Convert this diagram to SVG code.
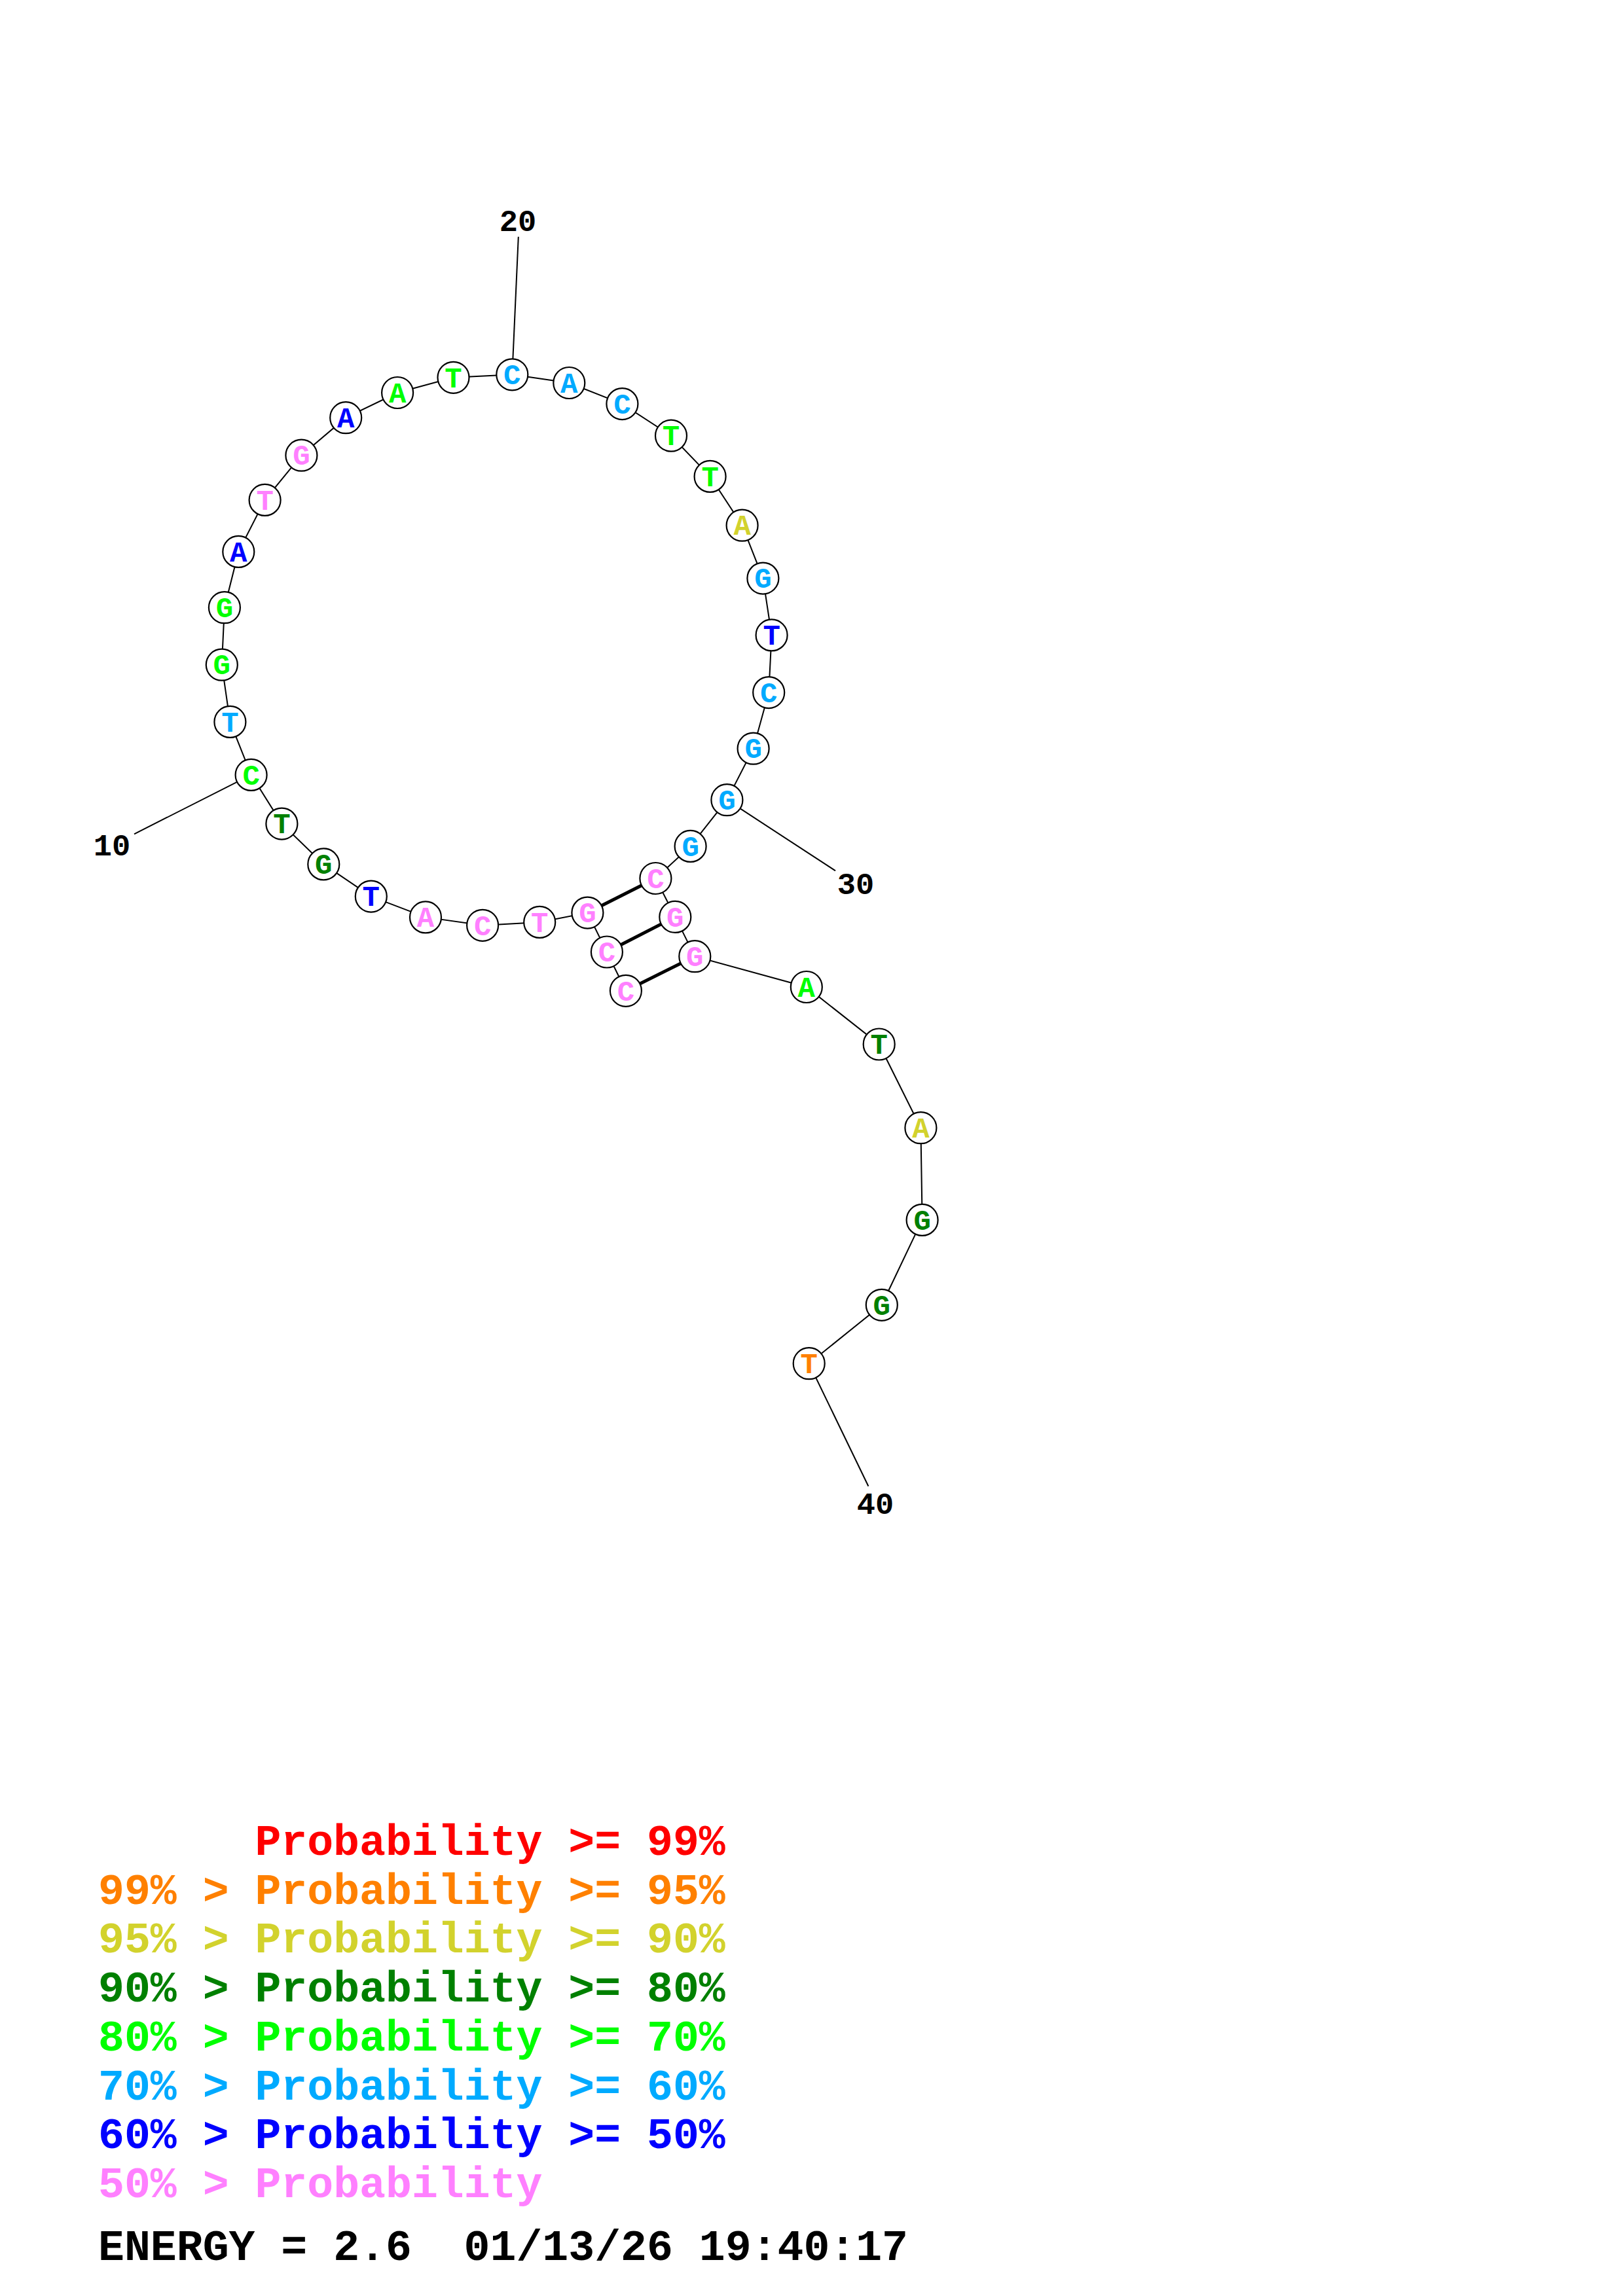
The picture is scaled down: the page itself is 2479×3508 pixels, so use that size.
<svg xmlns="http://www.w3.org/2000/svg" width="2479" height="3508" viewBox="0 0 2479 3508">
<style>
.bb{stroke:#000;stroke-width:2;fill:none}
.bp{stroke:#000;stroke-width:5;fill:none}
.nc{fill:#fff;stroke:#000;stroke-width:2.2}
.nt{font-family:"Liberation Mono",monospace;font-weight:bold;font-size:44px;text-anchor:middle}
.lb{font-family:"Liberation Mono",monospace;font-weight:bold;font-size:47px;text-anchor:middle;fill:#000}
.lg{font-family:"Liberation Mono",monospace;font-weight:bold;font-size:66.5px}
.pk{fill:#FF80FF}.sk{fill:#00AAFF}.lm{fill:#00FF00}.dg{fill:#008000}.bl{fill:#0000FF}.yl{fill:#D2D22D}.or{fill:#FF8000}.rd{fill:#FF0000}
</style>
<rect width="2479" height="3508" fill="#fff"/>
<g id="connectors">
<polyline class="bb" points="955.9,1513.8 926.9,1454.5 897.4,1394.6 824.2,1408.9 737.1,1413.8 650,1401.4 566.8,1369.6 494.3,1320.4 430.4,1258.6 383.6,1183.9 351.4,1102.9 338.8,1015.7 342.9,928.2 364.3,842.9 404.6,763.9 460.4,695.7 528.2,638.2 607.1,600 692.5,576.8 782.3,572.3 869.3,585 950.4,617.1 1025,665.7 1084.6,727.9 1133.6,802.7 1165.4,883.6 1178.6,970.4 1174.2,1058.1 1150.6,1143.7 1110.4,1222.2 1054.6,1292.9 1001.4,1342 1031.3,1400.9 1061.3,1461.2 1231.8,1508 1342.7,1595.5 1406.4,1723.2 1408.6,1863.9 1346.8,1993.8 1235.7,2083.2"/>
<line class="bp" x1="955.9" y1="1513.8" x2="1061.3" y2="1461.2"/>
<line class="bp" x1="926.9" y1="1454.5" x2="1031.3" y2="1400.9"/>
<line class="bp" x1="897.4" y1="1394.6" x2="1001.4" y2="1342"/>
<line class="bb" x1="383.6" y1="1183.9" x2="205" y2="1274.3"/>
<line class="bb" x1="782.3" y1="572.3" x2="791.8" y2="361.8"/>
<line class="bb" x1="1110.4" y1="1222.2" x2="1276" y2="1330.4"/>
<line class="bb" x1="1235.7" y1="2083.2" x2="1326.4" y2="2270.7"/>
</g>
<g id="labels">
<text class="lb" x="171" y="1307">10</text>
<text class="lb" x="791" y="353">20</text>
<text class="lb" x="1307" y="1366">30</text>
<text class="lb" x="1337" y="2313">40</text>
</g>
<g id="n1"><circle class="nc" cx="955.9" cy="1513.8" r="24"/><text class="nt pk" x="955.9" y="1528.5">C</text></g>
<g id="n2"><circle class="nc" cx="926.9" cy="1454.5" r="24"/><text class="nt pk" x="926.9" y="1469.2">C</text></g>
<g id="n3"><circle class="nc" cx="897.4" cy="1394.6" r="24"/><text class="nt pk" x="897.4" y="1409.3">G</text></g>
<g id="n4"><circle class="nc" cx="824.2" cy="1408.9" r="24"/><text class="nt pk" x="824.2" y="1423.6">T</text></g>
<g id="n5"><circle class="nc" cx="737.1" cy="1413.8" r="24"/><text class="nt pk" x="737.1" y="1428.5">C</text></g>
<g id="n6"><circle class="nc" cx="650" cy="1401.4" r="24"/><text class="nt pk" x="650" y="1416.1">A</text></g>
<g id="n7"><circle class="nc" cx="566.8" cy="1369.6" r="24"/><text class="nt bl" x="566.8" y="1384.3">T</text></g>
<g id="n8"><circle class="nc" cx="494.3" cy="1320.4" r="24"/><text class="nt dg" x="494.3" y="1335.1">G</text></g>
<g id="n9"><circle class="nc" cx="430.4" cy="1258.6" r="24"/><text class="nt dg" x="430.4" y="1273.3">T</text></g>
<g id="n10"><circle class="nc" cx="383.6" cy="1183.9" r="24"/><text class="nt lm" x="383.6" y="1198.6">C</text></g>
<g id="n11"><circle class="nc" cx="351.4" cy="1102.9" r="24"/><text class="nt sk" x="351.4" y="1117.6">T</text></g>
<g id="n12"><circle class="nc" cx="338.8" cy="1015.7" r="24"/><text class="nt lm" x="338.8" y="1030.4">G</text></g>
<g id="n13"><circle class="nc" cx="342.9" cy="928.2" r="24"/><text class="nt lm" x="342.9" y="942.9">G</text></g>
<g id="n14"><circle class="nc" cx="364.3" cy="842.9" r="24"/><text class="nt bl" x="364.3" y="857.6">A</text></g>
<g id="n15"><circle class="nc" cx="404.6" cy="763.9" r="24"/><text class="nt pk" x="404.6" y="778.6">T</text></g>
<g id="n16"><circle class="nc" cx="460.4" cy="695.7" r="24"/><text class="nt pk" x="460.4" y="710.4">G</text></g>
<g id="n17"><circle class="nc" cx="528.2" cy="638.2" r="24"/><text class="nt bl" x="528.2" y="652.9">A</text></g>
<g id="n18"><circle class="nc" cx="607.1" cy="600" r="24"/><text class="nt lm" x="607.1" y="614.7">A</text></g>
<g id="n19"><circle class="nc" cx="692.5" cy="576.8" r="24"/><text class="nt lm" x="692.5" y="591.5">T</text></g>
<g id="n20"><circle class="nc" cx="782.3" cy="572.3" r="24"/><text class="nt sk" x="782.3" y="587">C</text></g>
<g id="n21"><circle class="nc" cx="869.3" cy="585" r="24"/><text class="nt sk" x="869.3" y="599.7">A</text></g>
<g id="n22"><circle class="nc" cx="950.4" cy="617.1" r="24"/><text class="nt sk" x="950.4" y="631.8">C</text></g>
<g id="n23"><circle class="nc" cx="1025" cy="665.7" r="24"/><text class="nt lm" x="1025" y="680.4">T</text></g>
<g id="n24"><circle class="nc" cx="1084.6" cy="727.9" r="24"/><text class="nt lm" x="1084.6" y="742.6">T</text></g>
<g id="n25"><circle class="nc" cx="1133.6" cy="802.7" r="24"/><text class="nt yl" x="1133.6" y="817.4">A</text></g>
<g id="n26"><circle class="nc" cx="1165.4" cy="883.6" r="24"/><text class="nt sk" x="1165.4" y="898.3">G</text></g>
<g id="n27"><circle class="nc" cx="1178.6" cy="970.4" r="24"/><text class="nt bl" x="1178.6" y="985.1">T</text></g>
<g id="n28"><circle class="nc" cx="1174.2" cy="1058.1" r="24"/><text class="nt sk" x="1174.2" y="1072.8">C</text></g>
<g id="n29"><circle class="nc" cx="1150.6" cy="1143.7" r="24"/><text class="nt sk" x="1150.6" y="1158.4">G</text></g>
<g id="n30"><circle class="nc" cx="1110.4" cy="1222.2" r="24"/><text class="nt sk" x="1110.4" y="1236.9">G</text></g>
<g id="n31"><circle class="nc" cx="1054.6" cy="1292.9" r="24"/><text class="nt sk" x="1054.6" y="1307.6">G</text></g>
<g id="n32"><circle class="nc" cx="1001.4" cy="1342" r="24"/><text class="nt pk" x="1001.4" y="1356.7">C</text></g>
<g id="n33"><circle class="nc" cx="1031.3" cy="1400.9" r="24"/><text class="nt pk" x="1031.3" y="1415.6">G</text></g>
<g id="n34"><circle class="nc" cx="1061.3" cy="1461.2" r="24"/><text class="nt pk" x="1061.3" y="1475.9">G</text></g>
<g id="n35"><circle class="nc" cx="1231.8" cy="1508" r="24"/><text class="nt lm" x="1231.8" y="1522.7">A</text></g>
<g id="n36"><circle class="nc" cx="1342.7" cy="1595.5" r="24"/><text class="nt dg" x="1342.7" y="1610.2">T</text></g>
<g id="n37"><circle class="nc" cx="1406.4" cy="1723.2" r="24"/><text class="nt yl" x="1406.4" y="1737.9">A</text></g>
<g id="n38"><circle class="nc" cx="1408.6" cy="1863.9" r="24"/><text class="nt dg" x="1408.6" y="1878.6">G</text></g>
<g id="n39"><circle class="nc" cx="1346.8" cy="1993.8" r="24"/><text class="nt dg" x="1346.8" y="2008.5">G</text></g>
<g id="n40"><circle class="nc" cx="1235.7" cy="2083.2" r="24"/><text class="nt or" x="1235.7" y="2097.9">T</text></g>
<g id="legend">
<text class="lg rd" x="389.4" y="2834">Probability &gt;= 99%</text>
<text class="lg or" x="150" y="2908.7">99% &gt; Probability &gt;= 95%</text>
<text class="lg yl" x="150" y="2983.4">95% &gt; Probability &gt;= 90%</text>
<text class="lg dg" x="150" y="3058.1">90% &gt; Probability &gt;= 80%</text>
<text class="lg lm" x="150" y="3132.8">80% &gt; Probability &gt;= 70%</text>
<text class="lg sk" x="150" y="3207.5">70% &gt; Probability &gt;= 60%</text>
<text class="lg bl" x="150" y="3282.2">60% &gt; Probability &gt;= 50%</text>
<text class="lg pk" x="150" y="3356.9">50% &gt; Probability</text>
<text class="lg" fill="#000" x="150" y="3453">ENERGY = 2.6<tspan x="708.6">01/13/26 19:40:17</tspan></text>
</g>
</svg>
